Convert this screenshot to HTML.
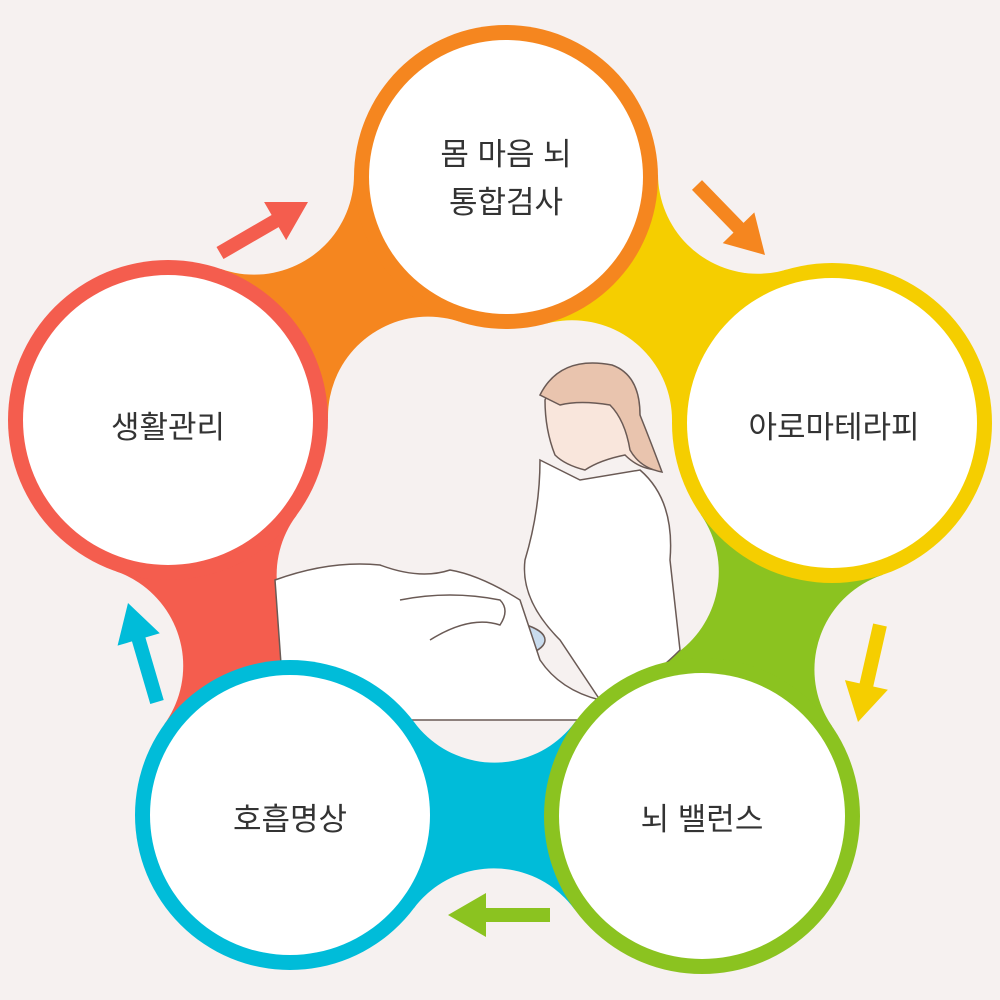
<!DOCTYPE html>
<html><head><meta charset="utf-8">
<style>
html,body{margin:0;padding:0;background:#F6F1F0;width:1000px;height:1000px;overflow:hidden;}
svg{display:block}
text{font-family:"Liberation Sans","Noto Sans CJK KR",sans-serif;fill:#333;font-size:31px;text-anchor:middle}
</style></head>
<body>
<svg id="s" width="1000" height="1000" viewBox="0 0 1000 1000" xmlns="http://www.w3.org/2000/svg">
<rect width="1000" height="1000" fill="#F6F1F0"/>
<g id="bridges"></g>
<g id="illus">
  <ellipse cx="490" cy="640" rx="55" ry="20" fill="#C9DCEE" stroke="#6a5a55" stroke-width="1.5"/>
  <path d="M540 460 Q560 470 580 480 L640 470 Q675 500 670 560 L680 650 Q640 690 600 700 L560 640 Q520 600 525 560 Q540 510 540 460Z" fill="#FFFFFF" stroke="#6a5a55" stroke-width="1.5"/>
  <path d="M545 400 Q560 360 610 365 Q640 380 640 420 Q650 450 660 470 Q640 470 625 455 Q600 460 585 470 Q565 465 555 455 Q545 430 545 400Z" fill="#F9E6DC" stroke="#6a5a55" stroke-width="1.5"/>
  <path d="M540 395 Q560 355 612 365 Q640 375 640 415 Q652 445 662 472 Q640 468 630 450 Q625 420 610 405 Q580 400 560 405 Z" fill="#E9C4AE" stroke="#6a5a55" stroke-width="1.5"/>
  <path d="M275 580 Q330 560 380 565 Q420 580 450 570 Q480 575 520 600 L540 660 Q560 690 600 700 L610 720 L285 720 Z" fill="#FFFFFF" stroke="#6a5a55" stroke-width="1.5"/>
  <path d="M400 600 Q450 590 500 600 Q510 610 500 625 Q470 615 430 640" fill="none" stroke="#6a5a55" stroke-width="1.5"/>
</g>
<g id="rings"></g>
<g id="arrows"></g>
<text x="506" y="165">몸 마음 뇌</text>
<text x="506" y="213">통합검사</text>
<text x="834" y="438">아로마테라피</text>
<text x="702" y="830">뇌 밸런스</text>
<text x="290" y="830">호흡명상</text>
<text x="168" y="438">생활관리</text>
</svg>
<script>
var NS="http://www.w3.org/2000/svg";
var BG="#F6F1F0";
var C=[[506,177,152,"#F5861F"],[832,423,160,"#F5CE00"],[702,816,158,"#8BC320"],[290,815,155,"#00BCD9"],[168,420,160,"#F45D4E"]];
var br=document.getElementById("bridges"),rg=document.getElementById("rings"),ar=document.getElementById("arrows");
function el(t,a,p){var e=document.createElementNS(NS,t);for(var k in a)e.setAttribute(k,a[k]);p.appendChild(e);return e;}
var inner=[];var R=100;
var cx=499,cy=530;
for(var i=0;i<5;i++){
 var a=C[i],b=C[(i+1)%5];
 var dx=b[0]-a[0],dy=b[1]-a[1],L=Math.hypot(dx,dy);
 var ux=dx/L,uy=dy/L,nx=-uy,ny=ux;
 var da=a[2]+R,db=b[2]+R;
 var x=(da*da-db*db+L*L)/(2*L);var h=Math.sqrt(Math.max(0,da*da-x*x));
 var px=a[0]+ux*x,py=a[1]+uy*x;
 var c1=[px+nx*h,py+ny*h],c2=[px-nx*h,py-ny*h];
 var d1=Math.hypot(c1[0]-cx,c1[1]-cy),d2=Math.hypot(c2[0]-cx,c2[1]-cy);
 var out=d1>d2?c1:c2,inn=d1>d2?c2:c1;
 var pts=[[a[0],a[1]],out,[b[0],b[1]],inn];
 el("polygon",{points:pts.map(p=>p.join(",")).join(" "),fill:b[3]},br);
 el("circle",{cx:out[0],cy:out[1],r:R,fill:BG},br);
 el("circle",{cx:inn[0],cy:inn[1],r:R,fill:BG},br);
 inner.push(inn);
}
el("polygon",{points:inner.map(p=>p.join(",")).join(" "),fill:BG},br);
C.forEach(function(c){
 el("circle",{cx:c[0],cy:c[1],r:c[2],fill:c[3]},rg);
 el("circle",{cx:c[0],cy:c[1],r:c[2]-15,fill:"#fff"},rg);
});
function arrow(x1,y1,x2,y2,col){
 var dx=x2-x1,dy=y2-y1,L=Math.hypot(dx,dy),ux=dx/L,uy=dy/L,nx=-uy,ny=ux;
 var hl=38,hw=22,sw=7;
 var bx=x2-ux*hl,by=y2-uy*hl;
 var p=[[x1+nx*sw,y1+ny*sw],[bx+nx*sw,by+ny*sw],[bx+nx*hw,by+ny*hw],[x2,y2],[bx-nx*hw,by-ny*hw],[bx-nx*sw,by-ny*sw],[x1-nx*sw,y1-ny*sw]];
 el("polygon",{points:p.map(q=>q.join(",")).join(" "),fill:col},ar);
}
arrow(697,185,765,255,"#F5861F");
arrow(880,625,858,722,"#F5CE00");
arrow(550,915,448,915,"#8BC320");
arrow(157,702,128,603,"#00BCD9");
arrow(220,253,308,202,"#F45D4E");
</script>
</body></html>
